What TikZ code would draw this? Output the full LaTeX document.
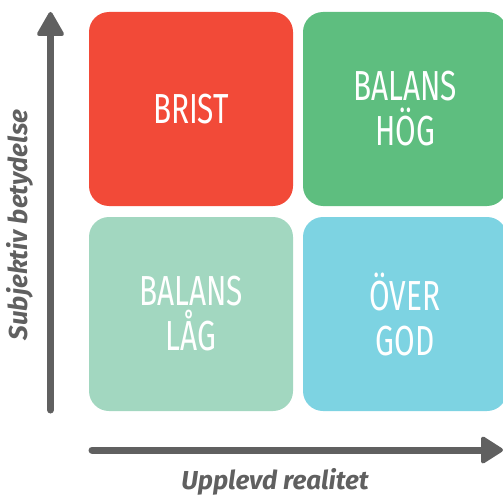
\documentclass[tikz,border=0pt]{standalone}
\usepackage{fontspec}
\setmainfont{Fira Sans}
\newfontfamily\condfont[FakeStretch=0.71]{Fira Sans}
\definecolor{cred}{RGB}{242,74,56}
\definecolor{cgreen}{RGB}{94,190,127}
\definecolor{cmint}{RGB}{162,215,192}
\definecolor{cblue}{RGB}{125,211,226}
\definecolor{cgray}{RGB}{96,96,96}
\begin{document}
\begin{tikzpicture}[x=1pt,y=-1pt,
  quad/.style={rounded corners=20pt, minimum width=204pt, minimum height=194pt,
    inner sep=0pt, text=white, align=center,
    font=\condfont\fontsize{42}{45}\selectfont},
  axisline/.style={draw=cgray, line width=7pt, line cap=round},
  axishead/.style={draw=cgray, fill=cgray, line width=4pt, line join=round},
  axislabel/.style={text=cgray, font=\bfseries\itshape\fontsize{26}{30}\selectfont}]
\useasboundingbox (0,0) rectangle (503,500);
\clip (0,0) rectangle (503,500);
\node[quad, fill=cred]   (brist) at (191,109) {BRIST};
\node[quad, fill=cgreen] (hog)   at (405,109) {BALANS\\HÖG};
\node[quad, fill=cmint]  (lag)   at (191,314) {BALANS\\LÅG};
\node[quad, fill=cblue]  (over)  at (405,314) {ÖVER\\GOD};
% vertical axis
\coordinate (ybot) at (50.5,410);
\coordinate (ytop) at (50.5,32);
\coordinate (ytip) at (50.5,14);
\draw[axisline] (ybot) -- (ytop);
\path[axishead] (ytip) -- (39,34) -- (62,34) -- cycle;
% horizontal axis
\coordinate (xl) at (92,450);
\coordinate (xr) at (485,450);
\coordinate (xtip) at (501,450);
\draw[axisline] (xl) -- (xr);
\path[axishead] (xtip) -- (483,438.5) -- (483,461.5) -- cycle;
\node[axislabel, rotate=90] (ylab) at (20,225) {Subjektiv betydelse};
\node[axislabel] (xlab) at (275,482) {Upplevd realitet};
\end{tikzpicture}
\end{document}
